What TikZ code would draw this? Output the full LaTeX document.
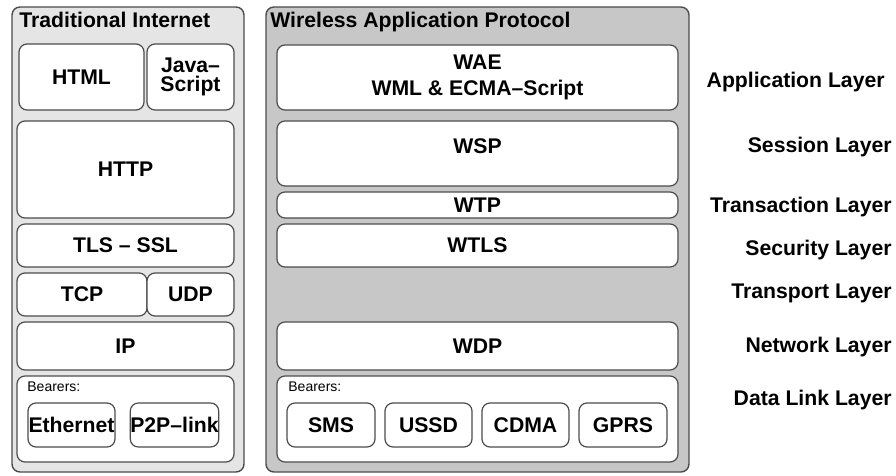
\documentclass[tikz,border=0pt]{standalone}
\usepackage{fontspec}
\setmainfont{Liberation Sans}

\begin{document}
\begin{tikzpicture}[x=0.5pt, y=-0.5pt,
        panel/.style = {draw=black!70, fill=black!10, line width=0.7pt, rounded corners=4pt, inner sep=0pt},
        box/.style = {draw=black!70, fill=white, line width=0.6pt, rounded corners=4pt, inner sep=0pt, align=center, font=\fontsize{10.6}{13}\selectfont\bfseries},
        tag/.style = {inner sep=0pt, font=\fontsize{10.6}{13}\selectfont\bfseries},
        title/.style = {tag, anchor=base west},
        layer/.style = {tag, anchor=base east},
        note/.style = {anchor=base west, inner sep=0pt, font=\fontsize{7}{8}\selectfont}]
    \useasboundingbox (0,0) rectangle (896,476);

    % left stack: traditional internet
    \node[panel, minimum width=116pt, minimum height=232.5pt] (inet) at (128,239.5) {};
    \node[title] (inet-t) at (19,28) {Traditional Internet};
    \node[box, minimum width=62.5pt, minimum height=33pt] (html) at (81.5,77) {HTML};
    \node[box, minimum width=43.5pt, minimum height=33pt, font=\fontsize{10.6}{9.6}\selectfont\bfseries] (js) at (190.5,77) {Java–\\Script};
    \node[box, minimum width=108.5pt, minimum height=48.5pt] (http) at (125.5,169.5) {HTTP};
    \node[box, minimum width=108.5pt, minimum height=21.5pt] (tls) at (125.5,245.5) {TLS – SSL};
    \node[box, minimum width=65pt, minimum height=21.5pt] (tcp) at (82,294.5) {TCP};
    \node[box, minimum width=43.5pt, minimum height=21.5pt] (udp) at (190.5,294.5) {UDP};
    \node[box, minimum width=108.5pt, minimum height=24pt] (ip) at (125.5,346) {IP};
    \node[box, minimum width=108.5pt, minimum height=43pt] (bear1) at (125.5,419) {};
    \node[note] (bear1-t) at (27,392) {Bearers:};
    \node[box, minimum width=43.5pt, minimum height=22pt] (eth) at (71.5,425) {Ethernet};
    \node[box, minimum width=43.5pt, minimum height=22pt] (p2p) at (174.5,425) {P2P–link};

    % right stack: WAP
    \node[panel, fill=black!22, minimum width=211.5pt, minimum height=232.5pt] (wap) at (477.5,239.5) {};
    \node[title] (wap-t) at (270,28) {Wireless Application Protocol};
    \node[box, minimum width=200.5pt, minimum height=32.5pt] (wae) at (477.5,77.5) {WAE\\WML \& ECMA–Script};
    \node[box, minimum width=200.5pt, minimum height=32.5pt] (wsp) at (477.5,153.5) {};
    \node[tag] (wsp-t) at (477.5,146) {WSP};
    \node[box, minimum width=200.5pt, minimum height=13pt] (wtp) at (477.5,205) {WTP};
    \node[box, minimum width=200.5pt, minimum height=21.5pt] (wtls) at (477.5,245.5) {WTLS};
    \node[box, minimum width=200.5pt, minimum height=24pt] (wdp) at (477.5,346) {WDP};
    \node[box, minimum width=200.5pt, minimum height=43pt] (bear2) at (477.5,419) {};
    \node[note] (bear2-t) at (288,392) {Bearers:};
    \node[box, minimum width=44pt, minimum height=22pt] (sms) at (331,425) {SMS};
    \node[box, minimum width=43.5pt, minimum height=22pt] (ussd) at (428.5,425) {USSD};
    \node[box, minimum width=43.5pt, minimum height=22pt] (cdma) at (525.5,425) {CDMA};
    \node[box, minimum width=44pt, minimum height=22pt] (gprs) at (623,425) {GPRS};

    % layer names
    \node[layer] (app) at (885,88) {Application Layer};
    \node[layer] (ses) at (892,153) {Session Layer};
    \node[layer] (tra) at (892,213) {Transaction Layer};
    \node[layer] (sec) at (892,256) {Security Layer};
    \node[layer] (trp) at (892,299) {Transport Layer};
    \node[layer] (net) at (892,353) {Network Layer};
    \node[layer] (dll) at (892,406) {Data Link Layer};
\end{tikzpicture}
\end{document}
